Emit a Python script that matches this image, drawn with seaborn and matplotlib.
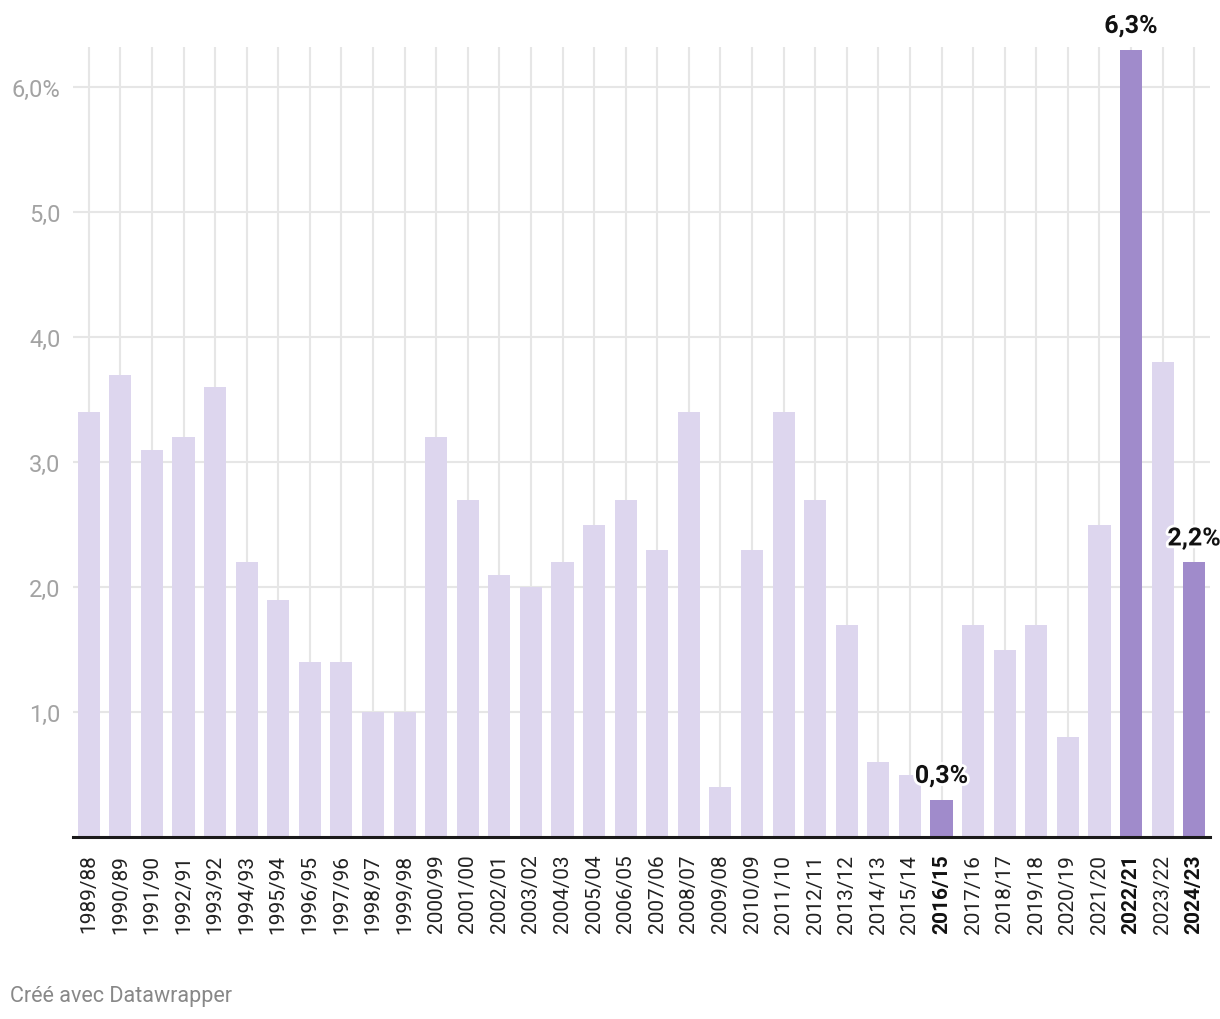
import matplotlib.pyplot as plt
import matplotlib.patheffects as pe
from matplotlib.ticker import FixedLocator
import seaborn as sns
import pandas as pd

# data
seasons = ["1989/88", "1990/89", "1991/90", "1992/91", "1993/92", "1994/93", "1995/94",
           "1996/95", "1997/96", "1998/97", "1999/98", "2000/99", "2001/00", "2002/01",
           "2003/02", "2004/03", "2005/04", "2006/05", "2007/06", "2008/07", "2009/08",
           "2010/09", "2011/10", "2012/11", "2013/12", "2014/13", "2015/14", "2016/15",
           "2017/16", "2018/17", "2019/18", "2020/19", "2021/20", "2022/21", "2023/22",
           "2024/23"]
values = [3.4, 3.7, 3.1, 3.2, 3.6, 2.2, 1.9, 1.4, 1.4, 1.0, 1.0, 3.2, 2.7, 2.1, 2.0,
          2.2, 2.5, 2.7, 2.3, 3.4, 0.4, 2.3, 3.4, 2.7, 1.7, 0.6, 0.5, 0.3, 1.7, 1.5,
          1.7, 0.8, 2.5, 6.3, 3.8, 2.2]
highlighted = ["2016/15", "2022/21", "2024/23"]
y_ticks = [1, 2, 3, 4, 5, 6]
y_labels = ["1,0", "2,0", "3,0", "4,0", "5,0", "6,0%"]

df = pd.DataFrame({"season": seasons, "value": values})
df["hl"] = df["season"].isin(highlighted)

sns.set_theme(style="white")
plt.rcParams["font.family"] = ["Roboto", "DejaVu Sans"]

fig = plt.figure(figsize=(12.2, 10.2), dpi=100)
ax = fig.add_axes([0.0598, 0.1784, 0.932, 0.7745])

grid_col = "#e6e6e6"
# vertical grid at each bar, drawn behind
for i in range(len(seasons)):
    ax.axvline(i, color=grid_col, lw=1.5, zorder=0)
for t in y_ticks:
    ax.axhline(t, color=grid_col, lw=1.5, zorder=0)

sns.barplot(data=df, x="season", y="value", hue="hl",
            palette={False: "#ddd6ee", True: "#a08bcb"}, saturation=1,
            width=0.7, dodge=False, legend=False, ax=ax, zorder=2, linewidth=0)

ax.set_xlim(-0.5, len(seasons) - 0.5)
ax.set_ylim(0, 6.32)
ax.yaxis.set_major_locator(FixedLocator(y_ticks))
ax.set_yticklabels(y_labels, fontsize=17, color="#a3a3a3")
ax.tick_params(axis="y", length=0, pad=9)
ax.tick_params(axis="x", length=0, pad=12)
ax.set_xticks(range(len(seasons)))
ax.set_xticklabels(seasons, rotation=90, fontsize=15, color="#222222")
for lbl in ax.get_xticklabels():
    if lbl.get_text() in highlighted:
        lbl.set_fontweight("bold")
        lbl.set_color("#111111")
ax.set_xlabel("")
ax.set_ylabel("")

for s in ["top", "right", "left"]:
    ax.spines[s].set_visible(False)
ax.spines["bottom"].set_color("#1a1a1a")
ax.spines["bottom"].set_linewidth(2.2)
ax.spines["bottom"].set_zorder(5)

# value labels on highlighted bars
for s in highlighted:
    i = seasons.index(s)
    v = values[i]
    ax.annotate(f"{v:.1f}%".replace(".", ","), (i, v), xytext=(0, 17),
                textcoords="offset points", ha="center", va="center",
                fontsize=18, fontweight="bold", color="#111111", zorder=6,
                annotation_clip=False,
                path_effects=[pe.withStroke(linewidth=4, foreground="white")])

fig.text(10 / 1220, 1 - 997 / 1020, "Créé avec Datawrapper", fontsize=15.5,
         color="#888888", ha="left", va="center")

plt.savefig("out.png", dpi=100)
